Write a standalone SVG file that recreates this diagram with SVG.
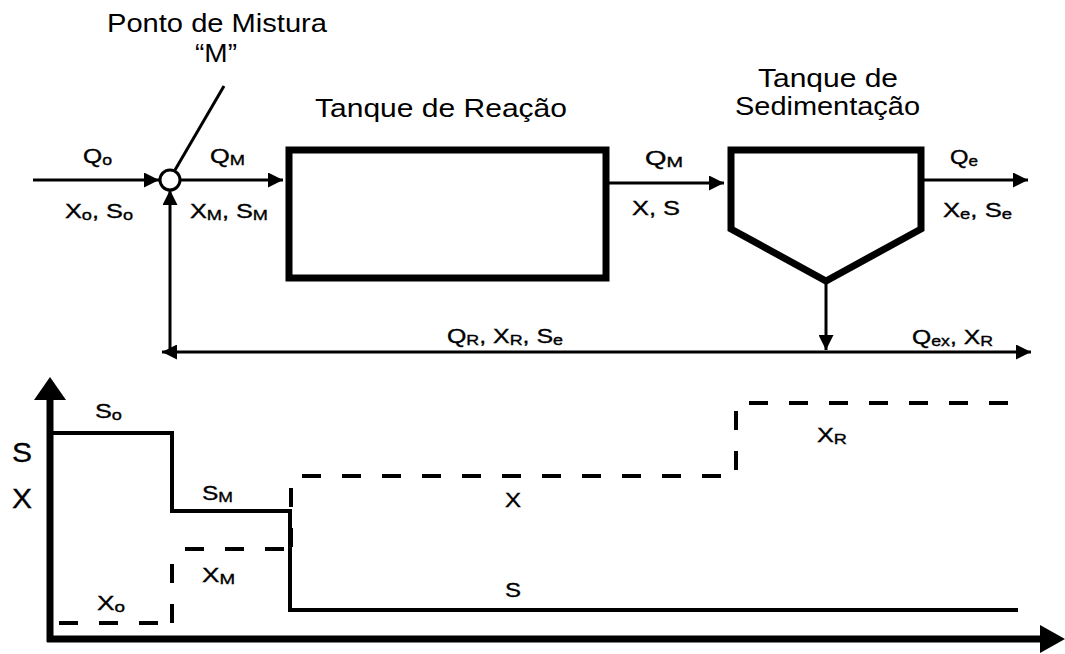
<svg xmlns="http://www.w3.org/2000/svg" width="1065" height="654" viewBox="0 0 1065 654">
<style>
text{font-family:"Liberation Sans",Arial,sans-serif;fill:#000}
.t{font-size:25.5px}
.l{font-size:19.5px;stroke:#000;stroke-width:0.35px}
.s{font-size:14px}
.ln{stroke:#000;stroke-width:3;fill:none}
.tk{stroke:#000;stroke-width:7;fill:none;stroke-linejoin:miter}
.pl{stroke:#000;stroke-width:4;fill:none}
.ds{stroke:#000;stroke-width:4;fill:none;stroke-dasharray:19 21}
.ax{stroke:#000;stroke-width:7;fill:none}
</style>
<defs>
<marker id="ah" viewBox="0 0 10 10" refX="10" refY="5" markerWidth="15" markerHeight="15" markerUnits="userSpaceOnUse" orient="auto-start-reverse">
<path d="M0,0 L10,5 L0,10 Z" fill="#000"/>
</marker>
</defs>

<g id="labels-top">
<text class="t" x="107" y="32" textLength="220" lengthAdjust="spacingAndGlyphs">Ponto de Mistura</text>
<text class="t" x="195" y="62" textLength="42" lengthAdjust="spacingAndGlyphs">“M”</text>
</g>

<g id="mix-point">
<line class="ln" x1="224" y1="86" x2="175" y2="170"/>
<circle cx="170" cy="180" r="10" fill="#fff" stroke="#000" stroke-width="3"/>
</g>

<g id="reaction-tank">
<rect class="tk" x="289" y="150" width="317" height="128"/>
<text class="t" x="315" y="117" textLength="252" lengthAdjust="spacingAndGlyphs">Tanque de Reação</text>
</g>

<g id="sedimentation-tank">
<path class="tk" d="M731,229 L731,150 L921,150 L921,229 L826,281 Z"/>
<text class="t" x="758" y="87" textLength="140" lengthAdjust="spacingAndGlyphs">Tanque de</text>
<text class="t" x="735" y="115" textLength="185" lengthAdjust="spacingAndGlyphs">Sedimentação</text>
</g>

<g id="connectors">
<line class="ln" x1="33" y1="180" x2="159" y2="180" marker-end="url(#ah)"/>
<line class="ln" x1="180" y1="180" x2="283" y2="180" marker-end="url(#ah)"/>
<line class="ln" x1="606" y1="183" x2="724" y2="183" marker-end="url(#ah)"/>
<line class="ln" x1="921" y1="180" x2="1028" y2="180" marker-end="url(#ah)"/>
<line class="ln" x1="826" y1="283" x2="826" y2="350" marker-end="url(#ah)"/>
<line class="ln" x1="170" y1="353" x2="170" y2="190" marker-end="url(#ah)"/>
<line class="ln" x1="162" y1="352" x2="1031" y2="352" marker-start="url(#ah)" marker-end="url(#ah)"/>
</g>

<g id="flow-labels">
<text class="l" x="83" y="163" textLength="29" lengthAdjust="spacingAndGlyphs">Q<tspan class="s" dy="1.5">o</tspan></text>
<text class="l" x="65" y="218" textLength="68" lengthAdjust="spacingAndGlyphs">X<tspan class="s" dy="1.5">o</tspan><tspan dy="-1.5">, S</tspan><tspan class="s" dy="1.5">o</tspan></text>
<text class="l" x="210" y="163" textLength="35" lengthAdjust="spacingAndGlyphs">Q<tspan class="s" dy="1.5">M</tspan></text>
<text class="l" x="190" y="218" textLength="78" lengthAdjust="spacingAndGlyphs">X<tspan class="s" dy="1.5">M</tspan><tspan dy="-1.5">, S</tspan><tspan class="s" dy="1.5">M</tspan></text>
<text class="l" x="645" y="165" textLength="38" lengthAdjust="spacingAndGlyphs">Q<tspan class="s" dy="1.5">M</tspan></text>
<text class="l" x="632" y="215" textLength="48" lengthAdjust="spacingAndGlyphs">X, S</text>
<text class="l" x="950" y="164" textLength="28" lengthAdjust="spacingAndGlyphs">Q<tspan class="s" dy="1.5">e</tspan></text>
<text class="l" x="943" y="217" textLength="69" lengthAdjust="spacingAndGlyphs">X<tspan class="s" dy="1.5">e</tspan><tspan dy="-1.5">, S</tspan><tspan class="s" dy="1.5">e</tspan></text>
<text class="l" x="447" y="343" textLength="116" lengthAdjust="spacingAndGlyphs">Q<tspan class="s" dy="1.5">R</tspan><tspan dy="-1.5">, X</tspan><tspan class="s" dy="1.5">R</tspan><tspan dy="-1.5">, S</tspan><tspan class="s" dy="1.5">e</tspan></text>
<text class="l" x="912" y="344" textLength="81" lengthAdjust="spacingAndGlyphs">Q<tspan class="s" dy="1.5">ex</tspan><tspan dy="-1.5">, X</tspan><tspan class="s" dy="1.5">R</tspan></text>
</g>

<g id="chart">
<line class="ax" x1="50" y1="642" x2="50" y2="398"/>
<path d="M34,400 L50,377 L66,400 Z" fill="#000"/>
<line class="ax" x1="47" y1="639" x2="1042" y2="639"/>
<path d="M1040,625 L1065,639 L1040,653 Z" fill="#000"/>
<path class="pl" d="M50,433 L172,433 L172,511 L290,511 L290,610 L1018,610"/>
<path class="ds" d="M59,623 L164,623"/>
<path class="ds" d="M172,623 L172,560" stroke-dasharray="18 23 19 50"/>
<path class="ds" d="M185,549 L291,549"/>
<path class="ds" d="M291,547 L291,486" stroke-dasharray="22 14 20 40"/>
<path class="ds" d="M302,476 L736,476 L736,403 L1018,403"/>
<text class="l" x="12" y="462" style="font-size:27px" textLength="20" lengthAdjust="spacingAndGlyphs">S</text>
<text class="l" x="12" y="508" style="font-size:27px" textLength="20" lengthAdjust="spacingAndGlyphs">X</text>
<text class="l" x="95" y="418" textLength="27" lengthAdjust="spacingAndGlyphs">S<tspan class="s" dy="1.5">o</tspan></text>
<text class="l" x="202" y="500" textLength="31" lengthAdjust="spacingAndGlyphs">S<tspan class="s" dy="1.5">M</tspan></text>
<text class="l" x="202" y="582" textLength="33" lengthAdjust="spacingAndGlyphs">X<tspan class="s" dy="1.5">M</tspan></text>
<text class="l" x="97" y="610" textLength="28" lengthAdjust="spacingAndGlyphs">X<tspan class="s" dy="1.5">o</tspan></text>
<text class="l" x="505" y="507" textLength="16" lengthAdjust="spacingAndGlyphs">X</text>
<text class="l" x="505" y="597" textLength="16" lengthAdjust="spacingAndGlyphs">S</text>
<text class="l" x="817" y="442" textLength="30" lengthAdjust="spacingAndGlyphs">X<tspan class="s" dy="1.5">R</tspan></text>
</g>
</svg>
